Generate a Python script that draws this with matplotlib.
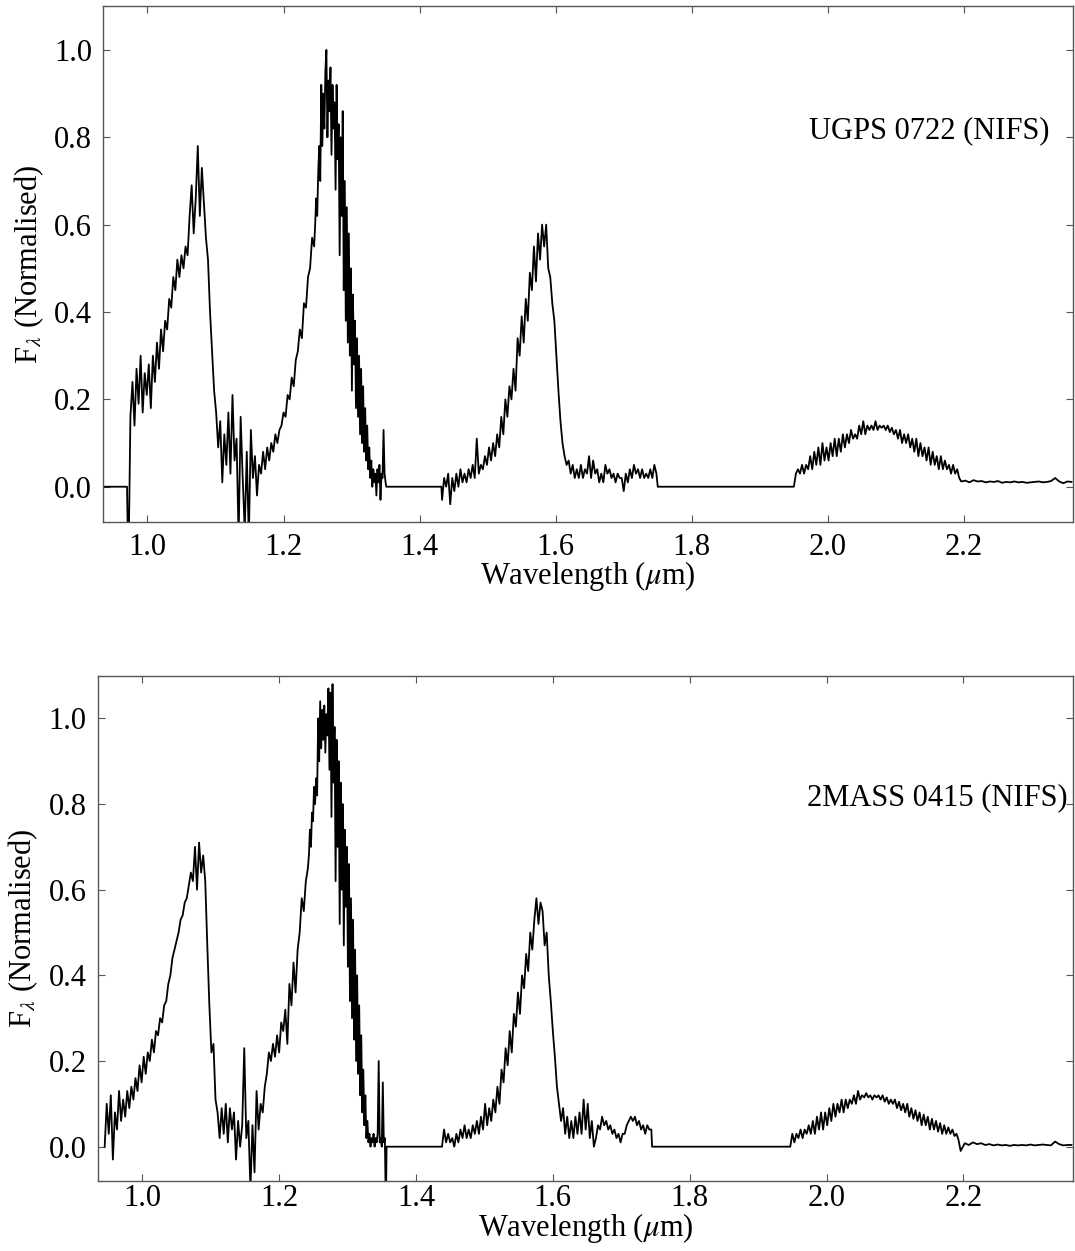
import numpy as np
import matplotlib.pyplot as plt

plt.rcParams["font.family"] = ["Liberation Serif", "DejaVu Serif"]
plt.rcParams["mathtext.fontset"] = "stix"

# ---------------------------------------------------------------
# UGPS 0722 (NIFS) -- normalised flux, segment by segment
# ---------------------------------------------------------------
ugps_y_range = (0.972, 1.245)
ugps_y_flux = [
    -0.20, 0.16, 0.24, 0.14, 0.27, 0.19, 0.30, 0.17, 0.26, 0.21,
    0.28, 0.18, 0.30, 0.24, 0.33, 0.27, 0.36, 0.31, 0.38, 0.36,
    0.43, 0.41, 0.48, 0.45, 0.52, 0.48, 0.53, 0.50, 0.55, 0.53,
    0.62, 0.69, 0.58, 0.66, 0.78, 0.62, 0.73, 0.65, 0.57, 0.52,
    0.40, 0.31, 0.22, 0.17, 0.09, 0.15, 0.01, 0.12, 0.05, 0.17,
    0.03, 0.21, 0.06, 0.11, -0.12, 0.16, 0.02, -0.10, 0.08, -0.12,
    0.13, 0.02, 0.07, -0.02, 0.05, 0.03, 0.08, 0.04, 0.09, 0.06,
    0.10, 0.08, 0.12, 0.10, 0.13, 0.14, 0.17, 0.16, 0.21, 0.20,
    0.25, 0.23, 0.29, 0.31, 0.36, 0.34, 0.42, 0.41, 0.48, 0.50,
    0.57, 0.55,
]
ugps_j_range = (1.2465, 1.350)
ugps_j_flux = [
    0.60, 0.66, 0.62, 0.72, 0.78, 0.70, 0.92, 0.78, 0.90, 0.82,
    0.95, 1.00, 0.80, 0.93, 0.86, 0.96, 0.76, 0.92, 0.82, 0.88,
    0.68, 0.92, 0.75, 0.83, 0.53, 0.80, 0.62, 0.86, 0.45, 0.70,
    0.38, 0.64, 0.33, 0.58, 0.30, 0.50, 0.22, 0.44, 0.28, 0.38,
    0.18, 0.34, 0.16, 0.30, 0.12, 0.27, 0.10, 0.23, 0.08, 0.18,
    0.06, 0.14, 0.04, 0.09, 0.02, 0.06, 0.00, 0.04, 0.01, 0.03,
    -0.02, 0.04, 0.01, 0.05, -0.03, 0.03, 0.02, 0.13, 0.03, 0.01,
]
ugps_h_range = (1.433, 1.748)
ugps_h_flux = [
    -0.03, 0.02, 0.00, 0.03, -0.04, 0.02, -0.01, 0.03, 0.00, 0.04,
    0.01, 0.03, 0.01, 0.04, 0.02, 0.05, 0.02, 0.11, 0.03, 0.05,
    0.04, 0.07, 0.05, 0.09, 0.06, 0.10, 0.07, 0.12, 0.09, 0.16,
    0.12, 0.20, 0.16, 0.23, 0.20, 0.27, 0.22, 0.34, 0.30, 0.39,
    0.33, 0.43, 0.38, 0.49, 0.45, 0.55, 0.47, 0.58, 0.52, 0.60,
    0.55, 0.60, 0.50, 0.48, 0.42, 0.38, 0.30, 0.22, 0.15, 0.10,
    0.07, 0.05, 0.06, 0.03, 0.05, 0.02, 0.04, 0.02, 0.05, 0.02,
    0.04, 0.03, 0.07, 0.02, 0.06, 0.03, 0.04, 0.01, 0.03, 0.01,
    0.05, 0.03, 0.04, 0.02, 0.03, 0.01, 0.03, 0.02, 0.02, -0.01,
    0.03, 0.01, 0.04, 0.02, 0.05, 0.03, 0.04, 0.02, 0.04, 0.02,
    0.03, 0.02, 0.04, 0.02, 0.05, 0.03,
]
ugps_k_range = (1.950, 2.193)
ugps_k_flux = [
    0.00, 0.03, 0.04, 0.03, 0.05, 0.03, 0.05, 0.04, 0.07, 0.04,
    0.08, 0.05, 0.09, 0.05, 0.10, 0.06, 0.09, 0.06, 0.10, 0.07,
    0.11, 0.07, 0.11, 0.08, 0.12, 0.09, 0.12, 0.10, 0.13, 0.11,
    0.12, 0.11, 0.14, 0.12, 0.15, 0.12, 0.14, 0.13, 0.14, 0.13,
    0.15, 0.13, 0.14, 0.135, 0.14, 0.13, 0.14, 0.125, 0.135, 0.12,
    0.13, 0.11, 0.13, 0.10, 0.12, 0.10, 0.12, 0.09, 0.11, 0.08,
    0.11, 0.07, 0.10, 0.07, 0.09, 0.06, 0.09, 0.05, 0.08, 0.05,
    0.07, 0.04, 0.07, 0.04, 0.06, 0.04, 0.05, 0.03, 0.05, 0.03,
    0.04, 0.02,
]
ugps_tail_range = (2.196, 2.358)
ugps_tail_flux = [
    0.012, 0.014, 0.010, 0.015, 0.012, 0.013, 0.010, 0.012, 0.011, 0.013,
    0.009, 0.011, 0.010, 0.012, 0.010, 0.011, 0.009, 0.010, 0.011, 0.012,
    0.010, 0.011, 0.013, 0.020, 0.012, 0.008, 0.012, 0.011,
]

# ---------------------------------------------------------------
# 2MASS 0415 (NIFS)
# ---------------------------------------------------------------
tmass_y_range = (0.945, 1.242)
tmass_y_flux = [
    0.00, 0.10, 0.03, 0.12, -0.03, 0.08, 0.04, 0.13, 0.06, 0.11,
    0.07, 0.13, 0.09, 0.14, 0.11, 0.16, 0.13, 0.19, 0.15, 0.21,
    0.17, 0.22, 0.20, 0.25, 0.22, 0.27, 0.26, 0.30, 0.29, 0.33,
    0.34, 0.38, 0.40, 0.44, 0.46, 0.48, 0.50, 0.53, 0.54, 0.57,
    0.58, 0.61, 0.64, 0.62, 0.70, 0.60, 0.71, 0.64, 0.68, 0.62,
    0.47, 0.33, 0.22, 0.24, 0.11, 0.08, 0.02, 0.09, 0.03, 0.10,
    0.01, 0.09, 0.04, 0.08, -0.03, 0.06, 0.00, 0.05, 0.23, 0.02,
    0.06, -0.10, 0.05, -0.06, 0.13, 0.04, 0.10, 0.08, 0.14, 0.17,
    0.22, 0.20, 0.24, 0.21, 0.26, 0.22, 0.29, 0.27, 0.32, 0.24,
    0.38, 0.33, 0.43, 0.36, 0.46, 0.50, 0.58, 0.55, 0.62, 0.65,
]
tmass_j_range = (1.2435, 1.356)
tmass_j_flux = [
    0.68, 0.74, 0.70, 0.78, 0.76, 0.84, 0.80, 0.86, 0.82, 1.00,
    0.90, 1.04, 0.93, 1.02, 0.95, 1.03, 0.92, 1.01, 0.96, 1.07,
    0.88, 1.06, 0.77, 1.08, 0.85, 0.98, 0.62, 0.95, 0.70, 0.90,
    0.52, 0.85, 0.60, 0.80, 0.47, 0.74, 0.56, 0.70, 0.42, 0.66,
    0.34, 0.58, 0.30, 0.53, 0.25, 0.46, 0.20, 0.40, 0.17, 0.33,
    0.12, 0.26, 0.08, 0.18, 0.05, 0.12, 0.02, 0.06, 0.01, 0.03,
    0.00, 0.02, 0.01, 0.03, 0.00, 0.02, 0.01, 0.03, 0.20, 0.01,
    0.02, 0.00, 0.15, 0.01, 0.02, -0.15,
]
tmass_h_range = (1.438, 1.744)
tmass_h_flux = [
    0.00, 0.04, 0.01, 0.03, 0.01, 0.02, 0.00, 0.03, 0.01, 0.04,
    0.02, 0.05, 0.02, 0.04, 0.02, 0.05, 0.03, 0.06, 0.03, 0.07,
    0.04, 0.10, 0.05, 0.09, 0.06, 0.11, 0.08, 0.14, 0.10, 0.18,
    0.15, 0.23, 0.19, 0.27, 0.22, 0.31, 0.28, 0.36, 0.31, 0.40,
    0.37, 0.45, 0.41, 0.50, 0.46, 0.53, 0.58, 0.52, 0.57, 0.55,
    0.47, 0.50, 0.40, 0.34, 0.27, 0.21, 0.14, 0.10, 0.06, 0.09,
    0.03, 0.07, 0.02, 0.06, 0.02, 0.07, 0.03, 0.08, 0.03, 0.11,
    0.04, 0.10, 0.02, 0.06, 0.00, 0.02, 0.05, 0.04, 0.07, 0.05,
    0.06, 0.04, 0.05, 0.03, 0.04, 0.02, 0.03, 0.01, 0.03, 0.03,
    0.05, 0.06, 0.07, 0.06, 0.07, 0.05, 0.06, 0.04, 0.05, 0.03,
    0.05, 0.04, 0.04,
]
tmass_k_range = (1.947, 2.193)
tmass_k_flux = [
    0.00, 0.03, 0.01, 0.03, 0.02, 0.04, 0.02, 0.04, 0.03, 0.05,
    0.03, 0.06, 0.03, 0.07, 0.04, 0.08, 0.04, 0.08, 0.05, 0.09,
    0.06, 0.10, 0.07, 0.10, 0.08, 0.11, 0.08, 0.11, 0.09, 0.11,
    0.10, 0.12, 0.10, 0.13, 0.11, 0.12, 0.115, 0.125, 0.115, 0.12,
    0.11, 0.12, 0.115, 0.12, 0.11, 0.12, 0.105, 0.115, 0.10, 0.11,
    0.10, 0.11, 0.09, 0.105, 0.085, 0.10, 0.08, 0.10, 0.07, 0.09,
    0.065, 0.085, 0.06, 0.08, 0.05, 0.075, 0.05, 0.07, 0.04, 0.065,
    0.04, 0.06, 0.035, 0.055, 0.03, 0.05, 0.03, 0.045, 0.03, 0.04,
    0.025, 0.03, 0.015,
]
tmass_tail_range = (2.196, 2.358)
tmass_tail_flux = [
    -0.010, 0.008, 0.004, 0.010, 0.006, 0.008, 0.004, 0.006, 0.003, 0.005,
    0.003, 0.004, 0.002, 0.004, 0.003, 0.004, 0.003, 0.005, 0.003, 0.004,
    0.005, 0.004, 0.003, 0.012, 0.006, 0.003, 0.004, 0.004,
]

# wavelength ranges with no data (plotted as zero)
ugps_gaps = [(0.930, 0.970), (1.351, 1.432), (1.750, 1.948)]
tmass_gaps = [(1.357, 1.437), (1.745, 1.946)]


def build_spectrum(segments, gaps):
    pieces = [(np.linspace(lo, hi, len(f)), np.asarray(f, float))
              for (lo, hi), f in segments]
    pieces += [(np.array(g), np.zeros(2)) for g in gaps]
    pieces.sort(key=lambda p: p[0][0])
    wave = np.concatenate([p[0] for p in pieces])
    flux = np.concatenate([p[1] for p in pieces])
    return wave, flux


ugps_wave, ugps_flux = build_spectrum(
    [(ugps_y_range, ugps_y_flux), (ugps_j_range, ugps_j_flux),
     (ugps_h_range, ugps_h_flux), (ugps_k_range, ugps_k_flux),
     (ugps_tail_range, ugps_tail_flux)],
    ugps_gaps)
tmass_wave, tmass_flux = build_spectrum(
    [(tmass_y_range, tmass_y_flux), (tmass_j_range, tmass_j_flux),
     (tmass_h_range, tmass_h_flux), (tmass_k_range, tmass_k_flux),
     (tmass_tail_range, tmass_tail_flux)],
    tmass_gaps)

fig = plt.figure(figsize=(10.75, 12.51), dpi=100)
ax1 = fig.add_axes([0.096, 0.583, 0.902, 0.412])
ax2 = fig.add_axes([0.091, 0.056, 0.907, 0.404])

panels = [
    (ax1, ugps_wave, ugps_flux, "UGPS 0722 (NIFS)", 2.325, 8, -2),
    (ax2, tmass_wave, tmass_flux, "2MASS 0415 (NIFS)", 2.352, 2, -1),
]

for ax, wave, flux, name, xtext, pad, lpad in panels:
    ax.plot(wave, flux, color="black", lw=1.3)
    ax.set_xlim(0.935, 2.36)
    ax.set_ylim(-0.08, 1.1)
    ax.set_xticks([1.0, 1.2, 1.4, 1.6, 1.8, 2.0, 2.2])
    ax.set_yticks([0.0, 0.2, 0.4, 0.6, 0.8, 1.0])
    ax.xaxis.set_major_formatter(plt.FormatStrFormatter("%.1f"))
    ax.yaxis.set_major_formatter(plt.FormatStrFormatter("%.1f"))
    ax.tick_params(direction="in", top=True, right=True, length=5,
                   width=0.8, color="#555555", labelsize=22, pad=8)
    ax.tick_params(axis="x", pad=pad)
    for sp in ax.spines.values():
        sp.set_color("#555555")
        sp.set_linewidth(1.0)
    ax.set_xlabel(r"Wavelength ($\mu$m)", fontsize=22, labelpad=lpad)
    ax.set_ylabel(r"F$_\lambda$ (Normalised)", fontsize=22, labelpad=6)
    ax.text(xtext, 0.815, name, fontsize=22, ha="right", va="center")

fig.savefig("out.png", dpi=100)
